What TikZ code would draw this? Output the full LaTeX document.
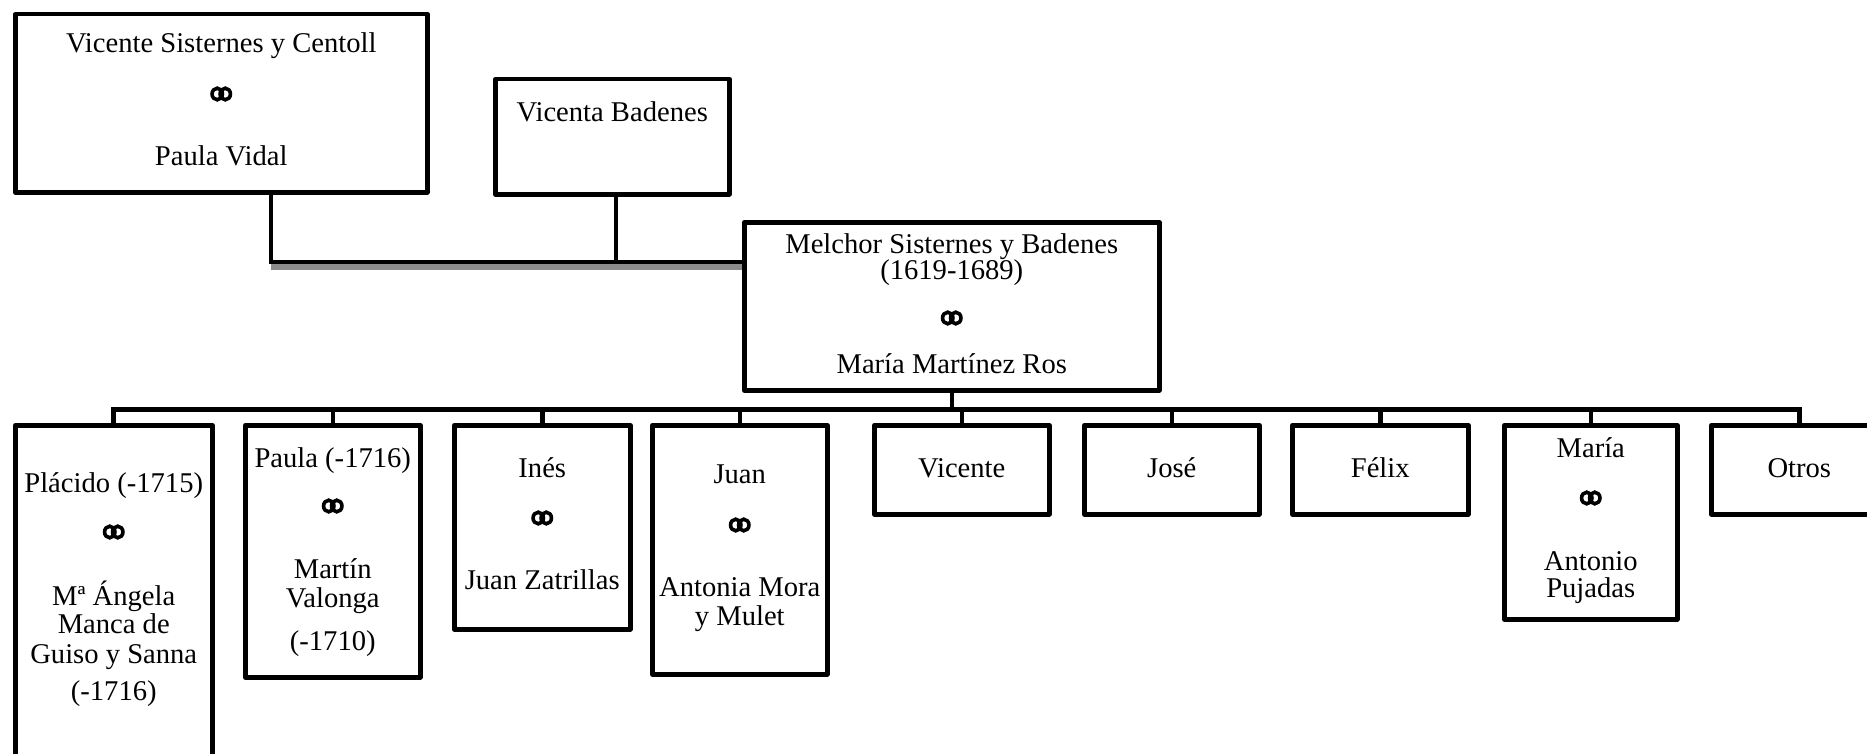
\documentclass[tikz,border=0pt]{standalone}
\usepackage{fontspec}
\setmainfont{Liberation Serif}
\usetikzlibrary{calc}
\begin{document}
\begin{tikzpicture}[x=1pt,y=-1pt,
  person/.style={draw, rectangle, line width=4.5pt, line join=round,
                 inner sep=0pt, anchor=north west, fill=white},
  txt/.style={anchor=base, inner sep=0pt, font=\fontsize{28.6pt}{33pt}\selectfont},
  link/.style={line width=4.5pt},
  barline/.style={line width=5pt},
  band/.style={line width=6pt, draw=black!45},
  rings/.pic={
    \draw[line width=3.6pt] (-4,0) ellipse [x radius=5.2, y radius=5.8];
    \draw[line width=3.6pt] (4,0) ellipse [x radius=5.2, y radius=5.8];
  }]
\useasboundingbox (0,0) rectangle (1867,754);
\clip (0,0) rectangle (1867,754);

% ---- parents' generation
\node[person, minimum width=412pt, minimum height=178pt] (b1) at (13,12) {};
\node[person, minimum width=234pt, minimum height=115pt] (vb) at (493,77) {};
\node[person, minimum width=415pt, minimum height=168pt] (mel) at (742,220) {};

\node[txt] (b1a) at (b1.north |- 0,53) {Vicente Sisternes y Centoll};
\pic (b1r) at (b1.north |- 0,94) {rings};
\node[txt] (b1b) at (b1.north |- 0,166) {Paula Vidal};

\node[txt] (vba) at (vb.north |- 0,122) {Vicenta Badenes};

\node[txt] (mela) at (mel.north |- 0,253) {Melchor Sisternes y Badenes};
\node[txt] (melb) at (mel.north |- 0,279) {(1619-1689)};
\pic (melr) at (mel.north |- 0,318) {rings};
\node[txt] (melc) at (mel.north |- 0,373) {María Martínez Ros};

% ---- link from parents to Melchor
\coordinate (pv) at ($(b1.south west)+(258,0)$);
\coordinate (vv) at ($(vb.south west)+(123,0)$);
\coordinate (mj) at ($(mel.north west)+(0,42)$);
\draw[band] ($(pv |- mj)+(0,5)$) -- ($(mj)+(0,5)$);
\draw[link] (pv) |- (mj);
\draw[link] (vv) -- (vv |- mj);

% ---- children
\node[person, minimum width=197pt, minimum height=377pt] (plac)  at (13,423) {};
\node[person, minimum width=175pt, minimum height=252pt] (paula) at (243,423) {};
\node[person, minimum width=176pt, minimum height=204pt] (ines)  at (452,423) {};
\node[person, minimum width=175pt, minimum height=249pt] (juan)  at (650,423) {};
\node[person, minimum width=175pt, minimum height=89pt]  (vic)   at (872,423) {};
\node[person, minimum width=175pt, minimum height=89pt]  (jose)  at (1082,423) {};
\node[person, minimum width=176pt, minimum height=89pt]  (felix) at (1290,423) {};
\node[person, minimum width=173pt, minimum height=194pt] (maria) at (1502,423) {};
\node[person, minimum width=176pt, minimum height=89pt]  (otros) at (1709,423) {};

% ---- children bar
\coordinate (bar) at ($(mel.south)+(0,17)$);
\draw[link] (mel.south) -- (bar);
\draw[barline, line join=miter] (plac.north) -- (plac.north |- bar) -- (otros.north |- bar) -- (otros.north);
\foreach \n in {paula,ines,juan,vic,jose,felix,maria}
  \draw[link] (\n.north) -- (\n.north |- bar);

% ---- children's texts
\node[txt] (pla) at (plac.north |- 0,492) {Plácido (-1715)};
\pic (plr) at (plac.north |- 0,532) {rings};
\node[txt] (plb) at (plac.north |- 0,605) {Mª Ángela};
\node[txt] (plc) at (plac.north |- 0,633) {Manca de};
\node[txt] (pld) at (plac.north |- 0,663) {Guiso y Sanna};
\node[txt] (ple) at (plac.north |- 0,700) {(-1716)};

\node[txt] (paa) at (paula.north |- 0,467) {Paula (-1716)};
\pic (par) at (paula.north |- 0,506) {rings};
\node[txt] (pab) at (paula.north |- 0,578) {Martín};
\node[txt] (pac) at (paula.north |- 0,607) {Valonga};
\node[txt] (pad) at (paula.north |- 0,650) {(-1710)};

\node[txt] (ina) at (ines.north |- 0,477) {Inés};
\pic (inr) at (ines.north |- 0,518) {rings};
\node[txt] (inb) at (ines.north |- 0,589) {Juan Zatrillas};

\node[txt] (jua) at (juan.north |- 0,483) {Juan};
\pic (jur) at (juan.north |- 0,525) {rings};
\node[txt] (jub) at (juan.north |- 0,596) {Antonia Mora};
\node[txt] (juc) at (juan.north |- 0,625) {y Mulet};

\node[txt] (vit) at (vic.north |- 0,477) {Vicente};
\node[txt] (jot) at (jose.north |- 0,477) {José};
\node[txt] (fet) at (felix.north |- 0,477) {Félix};

\node[txt] (maa) at (maria.north |- 0,457) {María};
\pic (mar) at (maria.north |- 0,498) {rings};
\node[txt] (mab) at (maria.north |- 0,570) {Antonio};
\node[txt] (mac) at (maria.north |- 0,597) {Pujadas};

\node[txt] (ott) at (otros.north |- 0,477) {Otros};
\end{tikzpicture}
\end{document}
